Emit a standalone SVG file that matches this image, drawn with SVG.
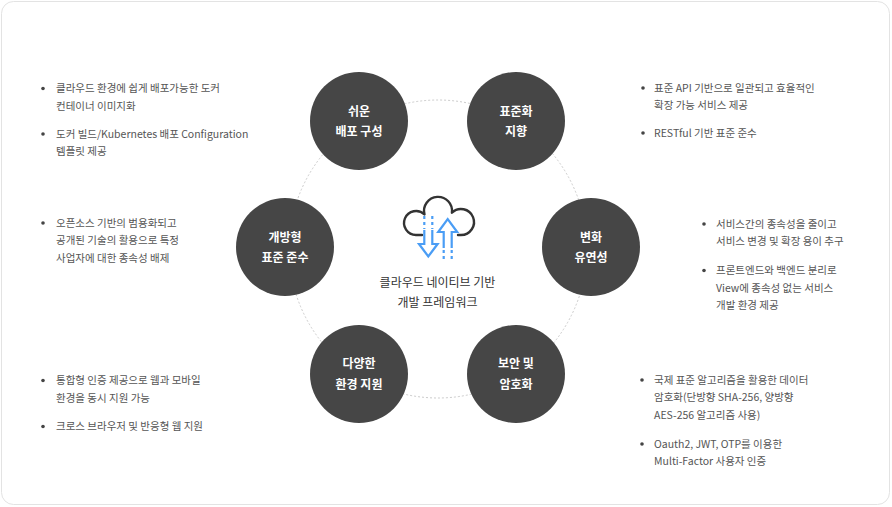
<svg xmlns="http://www.w3.org/2000/svg" width="892" height="507" viewBox="0 0 892 507">
<style>
.node{fill:#464646}
.lbl{font-family:"Noto Sans CJK KR","Noto Sans",sans-serif;font-size:12px;font-weight:bold;fill:#ffffff;text-anchor:middle}
.desc{font-family:"Noto Sans CJK KR","Noto Sans",sans-serif;font-size:10.5px;fill:#555555}
.dot{fill:#444444}
.ctr{font-family:"Noto Sans CJK KR","Noto Sans",sans-serif;font-size:12px;fill:#333333;text-anchor:middle}
.ring{fill:none;stroke:#cccccc;stroke-width:1;stroke-dasharray:2 2}
.arw{fill:none;stroke:#4a9df5;stroke-width:2.2;stroke-linejoin:miter}
.arwd{fill:none;stroke:#4a9df5;stroke-width:2.2;stroke-dasharray:3 3}
</style>
<rect x="1.5" y="1.5" width="888" height="503" rx="12" fill="#ffffff" stroke="#e3e3e3" stroke-width="1"/>
<g id="connectors">
<circle class="ring" cx="438" cy="249" r="149"/>
</g>
<g id="center">
<path d="M422 235 L416 235 A12 12 0 1 1 424.5 214.5 A14 14 0 1 1 451.9 212.7 A13 13 0 1 1 461 235 L458 235" fill="none" stroke="#333333" stroke-width="2.4" stroke-linecap="round" stroke-linejoin="round"/>
<line class="arwd" x1="424.3" y1="216" x2="424.3" y2="229"/>
<line class="arwd" x1="432.3" y1="216" x2="432.3" y2="229"/>
<path class="arw" d="M424.3 230 V244 H419 L428.3 256.5 L437.6 244 H432.3 V230"/>
<path class="arw" d="M443.7 248 V232 H438.2 L447.7 219 L457.2 232 H451.7 V248"/>
<line class="arwd" x1="443.7" y1="250" x2="443.7" y2="259"/>
<line class="arwd" x1="451.7" y1="250" x2="451.7" y2="259"/>
<text class="ctr" x="437.5" y="287">클라우드 네이티브 기반</text>
<text class="ctr" x="437.5" y="307">개발 프레임워크</text>
</g>
<g id="node-easy-deploy">
<circle class="node" cx="359" cy="121" r="49"/>
<text class="lbl" x="359" y="116">쉬운</text>
<text class="lbl" x="359" y="136">배포 구성</text>
</g>
<g id="node-standard">
<circle class="node" cx="516" cy="121" r="49"/>
<text class="lbl" x="516" y="116">표준화</text>
<text class="lbl" x="516" y="136">지향</text>
</g>
<g id="node-open">
<circle class="node" cx="285" cy="247" r="49"/>
<text class="lbl" x="285" y="242">개방형</text>
<text class="lbl" x="285" y="262">표준 준수</text>
</g>
<g id="node-flex">
<circle class="node" cx="591" cy="247" r="49"/>
<text class="lbl" x="591" y="242">변화</text>
<text class="lbl" x="591" y="262">유연성</text>
</g>
<g id="node-env">
<circle class="node" cx="359" cy="374" r="49"/>
<text class="lbl" x="359" y="368">다양한</text>
<text class="lbl" x="359" y="389">환경 지원</text>
</g>
<g id="node-security">
<circle class="node" cx="516" cy="374" r="49"/>
<text class="lbl" x="516" y="368">보안 및</text>
<text class="lbl" x="516" y="389">암호화</text>
</g>
<g id="desc-easy-deploy">
<circle class="dot" cx="43" cy="88.5" r="1.8"/>
<text class="desc" x="56" y="92">클라우드 환경에 쉽게 배포가능한 도커</text>
<text class="desc" x="56" y="109.5">컨테이너 이미지화</text>
<circle class="dot" cx="43" cy="134" r="1.8"/>
<text class="desc" x="56" y="137.5">도커 빌드/Kubernetes 배포 Configuration</text>
<text class="desc" x="56" y="155">템플릿 제공</text>
</g>
<g id="desc-standard">
<circle class="dot" cx="643" cy="88" r="1.8"/>
<text class="desc" x="654" y="91.5">표준 API 기반으로 일관되고 효율적인</text>
<text class="desc" x="654" y="109">확장 가능 서비스 제공</text>
<circle class="dot" cx="643" cy="133" r="1.8"/>
<text class="desc" x="654" y="136.5">RESTful 기반 표준 준수</text>
</g>
<g id="desc-open">
<circle class="dot" cx="43" cy="223" r="1.8"/>
<text class="desc" x="56" y="226.5">오픈소스 기반의 범용화되고</text>
<text class="desc" x="56" y="244">공개된 기술의 활용으로 특정</text>
<text class="desc" x="56" y="261.5">사업자에 대한 종속성 배제</text>
</g>
<g id="desc-flex">
<circle class="dot" cx="704" cy="224" r="1.8"/>
<text class="desc" x="716" y="227.5">서비스간의 종속성을 줄이고</text>
<text class="desc" x="716" y="245">서비스 변경 및 확장 용이 추구</text>
<circle class="dot" cx="704" cy="270.5" r="1.8"/>
<text class="desc" x="716" y="274">프론트엔드와 백엔드 분리로</text>
<text class="desc" x="716" y="291.5">View에 종속성 없는 서비스</text>
<text class="desc" x="716" y="309">개발 환경 제공</text>
</g>
<g id="desc-env">
<circle class="dot" cx="43" cy="380.5" r="1.8"/>
<text class="desc" x="56" y="384">통합형 인증 제공으로 웹과 모바일</text>
<text class="desc" x="56" y="401.5">환경을 동시 지원 가능</text>
<circle class="dot" cx="43" cy="426.5" r="1.8"/>
<text class="desc" x="56" y="430">크로스 브라우저 및 반응형 웹 지원</text>
</g>
<g id="desc-security">
<circle class="dot" cx="642" cy="380" r="1.8"/>
<text class="desc" x="654" y="383.5">국제 표준 알고리즘을 활용한 데이터</text>
<text class="desc" x="654" y="401">암호화(단방향 SHA-256, 양방향</text>
<text class="desc" x="654" y="418.5">AES-256 알고리즘 사용)</text>
<circle class="dot" cx="642" cy="444" r="1.8"/>
<text class="desc" x="654" y="447.5">Oauth2, JWT, OTP를 이용한</text>
<text class="desc" x="654" y="465">Multi-Factor 사용자 인증</text>
</g>
</svg>
